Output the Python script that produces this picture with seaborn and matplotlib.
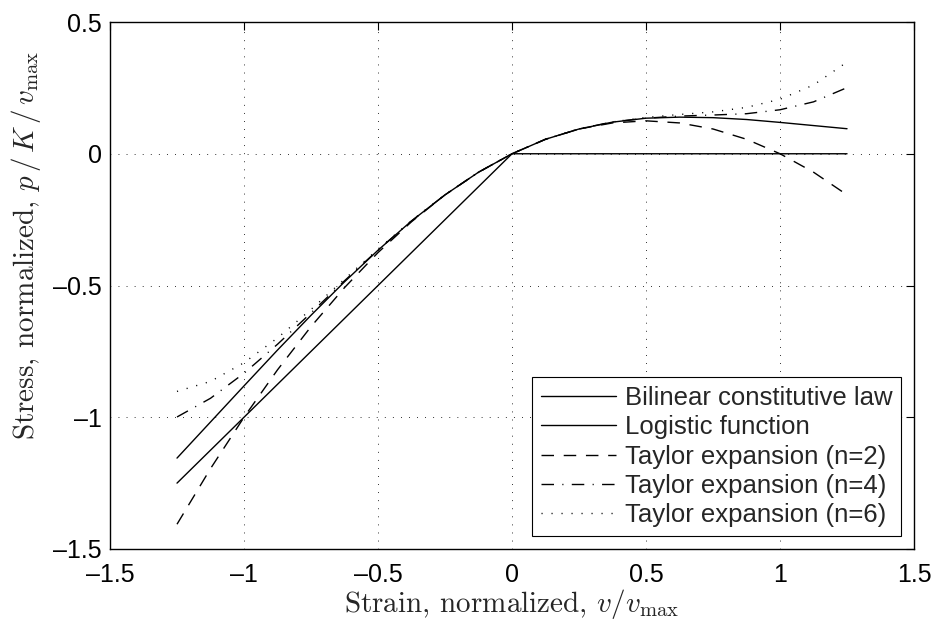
import numpy as np
import pandas as pd
import matplotlib
matplotlib.use("Agg")
import matplotlib.pyplot as plt
import seaborn as sns

# ---- data ----
strain = [-1.25, -1.125, -1.0, -0.875, -0.75, -0.625, -0.5, -0.375, -0.25, -0.125,
          0.0, 0.125, 0.25, 0.375, 0.5, 0.625, 0.75, 0.875, 1.0, 1.125, 1.25]
bilinear = [-1.25, -1.125, -1.0, -0.875, -0.75, -0.625, -0.5, -0.375, -0.25, -0.125,
            0.0, 0.0, 0.0, 0.0, 0.0, 0.0, 0.0, 0.0, 0.0, 0.0, 0.0]
logistic = [-1.155, -1.018, -0.881, -0.745, -0.613, -0.486, -0.366, -0.255, -0.156, -0.070,
            0.0, 0.055, 0.094, 0.120, 0.135, 0.139, 0.137, 0.130, 0.119, 0.107, 0.095]
taylor2 = [-1.406, -1.195, -1.0, -0.820, -0.656, -0.508, -0.375, -0.258, -0.156, -0.070,
           0.0, 0.055, 0.094, 0.117, 0.125, 0.117, 0.094, 0.055, 0.0, -0.070, -0.156]
taylor4 = [-0.999, -0.928, -0.833, -0.723, -0.604, -0.482, -0.365, -0.255, -0.156, -0.070,
           0.0, 0.055, 0.094, 0.121, 0.135, 0.143, 0.147, 0.152, 0.167, 0.197, 0.251]
taylor6 = [-0.902, -0.864, -0.793, -0.699, -0.591, -0.476, -0.362, -0.254, -0.155, -0.070,
           0.0, 0.055, 0.095, 0.121, 0.138, 0.149, 0.159, 0.176, 0.207, 0.261, 0.348]

series_names = ["Bilinear constitutive law", "Logistic function",
                "Taylor expansion (n=2)", "Taylor expansion (n=4)",
                "Taylor expansion (n=6)"]
xticks = [-1.5, -1.0, -0.5, 0.0, 0.5, 1.0, 1.5]
xtick_labels = ["\u20131.5", "\u20131", "\u20130.5", "0", "0.5", "1", "1.5"]
yticks = [-1.5, -1.0, -0.5, 0.0, 0.5]
ytick_labels = ["\u20131.5", "\u20131", "\u20130.5", "0", "0.5"]

# ---- style ----
sns.set_style("white")
plt.rcParams["font.family"] = ["Liberation Sans", "DejaVu Sans"]
plt.rcParams["mathtext.fontset"] = "cm"
plt.rcParams["axes.unicode_minus"] = False

fig = plt.figure(figsize=(9.37, 6.29), dpi=100)
ax = fig.add_axes([0.1174, 0.1272, 0.8581, 0.8378])

df = pd.DataFrame({"strain": strain,
                   series_names[0]: bilinear,
                   series_names[1]: logistic,
                   series_names[2]: taylor2,
                   series_names[3]: taylor4,
                   series_names[4]: taylor6})

styles = ["-", "-", (0, (9, 7)), (0, (9, 6, 0.8, 6)), (0, (0.8, 6.4))]
for name, ls in zip(series_names, styles):
    sns.lineplot(data=df, x="strain", y=name, ax=ax, color="black",
                 linewidth=1.0, label=name, linestyle=ls)

for line, ls in zip(ax.get_lines(), styles):
    line.set_linestyle(ls)

ax.set_xlim(-1.5, 1.5)
ax.set_ylim(-1.5, 0.5)
ax.set_xticks(xticks)
ax.set_xticklabels(xtick_labels)
ax.set_yticks(yticks)
ax.set_yticklabels(ytick_labels)
ax.tick_params(direction="in", length=6, width=0.8, top=True, right=True,
               labelsize=18, colors="black")
ax.tick_params(axis="x", pad=10)
ax.tick_params(axis="y", pad=6)
ax.grid(True, color="black", linestyle=(0, (0.8, 7.5)), linewidth=0.7)
ax.set_axisbelow(True)
for sp in ax.spines.values():
    sp.set_color("black")
    sp.set_linewidth(1.0)

ax.set_xlabel(r"Strain, normalized, $v/v_{\mathrm{max}}$", fontsize=21,
              family="cmr10")
ax.xaxis.set_label_coords(0.5, -0.072)
ax.xaxis.label.set_va("top")

ylab = ax.set_ylabel(r"Stress, normalized, $p\,/\,K\,/\,v_{\mathrm{max}}$",
                     fontsize=21, family="cmr10")
ax.yaxis.set_label_coords(-0.083, 0.207)
ylab.set_ha("left")
ylab.set_va("bottom")

leg = ax.legend(loc="lower right", bbox_to_anchor=(0.984, 0.025),
                borderaxespad=0, fontsize=18.5, frameon=True, fancybox=False,
                framealpha=1, edgecolor="black", labelspacing=0.2,
                handlelength=2.9, handletextpad=0.35, borderpad=0.35)
leg.get_frame().set_linewidth(0.8)

fig.savefig("out.png", dpi=100)
